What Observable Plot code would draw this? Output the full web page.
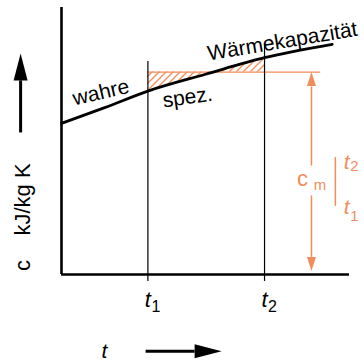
<!DOCTYPE html>
<html><head><meta charset="utf-8">
<script src="https://cdn.jsdelivr.net/npm/d3@7"></script>
<script src="https://cdn.jsdelivr.net/npm/@observablehq/plot@0.6"></script>
<style>body{margin:0;background:#fff}</style>
</head><body><div id="chart"></div>
<script>
// True specific heat capacity curve c(t) (schematic units)
const curveT = [0, 1.5, 3, 5, 7.05, 9.4];
const curveC = [5.66, 6.25, 6.87, 7.5, 8.12, 8.62];
// Temperatures t1, t2 and their guide-line tops
const tempT = [3, 7.05];
const tempTop = [7.98, 8.65];
const tempSub = ["1", "2"];
// Mean specific heat capacity between t1 and t2
const cmValue = 7.58;
const cmLineEnd = 9.0;

const OR = "#f28c5a";
const FONT = "'Liberation Sans', Arial, sans-serif";

const curve = curveT.map((t, i) => ({t, c: curveC[i]}));
const hatch = curve.filter(d => d.t >= tempT[0] && d.t <= tempT[1]);
const temps = tempT.map((t, i) => ({t, top: tempTop[i], sub: tempSub[i]}));

// arrow annotations: shaft start, shaft end (head base), tip
const arrowsBlack = [
  {x1: -1.42, y1: 5.32, x2: -1.42, y2: 7.27, tx: -1.42, ty: 8.28, rot: 0},
  {x1: 2.92, y1: -2.87, x2: 4.62, y2: -2.87, tx: 5.56, ty: -2.87, rot: 90}
];
const arrowsOrange = [
  {x1: 8.68, y1: 4.08, x2: 8.68, y2: 7.04, tx: 8.68, ty: cmValue, rot: 0},
  {x1: 8.68, y1: 2.96, x2: 8.68, y2: 0.66, tx: 8.68, ty: 0.13, rot: 180}
];

const headBig = {draw(ctx) { ctx.moveTo(0, 0); ctx.lineTo(7, 27); ctx.lineTo(-7, 27); ctx.closePath(); }};
const headSmall = {draw(ctx) { ctx.moveTo(0, 0); ctx.lineTo(4.5, 14); ctx.lineTo(-4.5, 14); ctx.closePath(); }};

const curveLabels = [
  {text: "wahre", t: 1.42, c: 6.57, rot: -13},
  {text: "spez.", t: 4.41, c: 6.39, rot: -8},
  {text: "Wärmekapazität", t: 7.71, c: 8.48, rot: -9.5}
];

const svg = Plot.plot({
  width: 364, height: 361,
  marginLeft: 61, marginRight: 15, marginTop: 7, marginBottom: 87,
  style: {fontFamily: FONT, background: "white", overflow: "visible"},
  x: {domain: [0, 10], axis: null},
  y: {domain: [0, 10], axis: null},
  marks: [
    Plot.areaY(hatch, {x: "t", y1: cmValue, y2: "c", fill: "url(#hatch)", curve: "monotone-x"}),
    Plot.ruleY([cmValue], {x1: tempT[0], x2: cmLineEnd, stroke: OR, strokeWidth: 1.3}),
    Plot.line(curve, {x: "t", y: "c", strokeWidth: 2.8, curve: "monotone-x"}),
    Plot.ruleX(temps, {x: "t", y1: -0.26, y2: "top", strokeWidth: 1.2}),
    Plot.ruleX([0], {y1: 0, y2: 10, strokeWidth: 2.6}),
    Plot.ruleY([0], {x1: 0, x2: 10, strokeWidth: 2.6}),
    // arrows
    Plot.link(arrowsBlack, {x1: "x1", y1: "y1", x2: "x2", y2: "y2", strokeWidth: 3}),
    Plot.dot(arrowsBlack, {x: "tx", y: "ty", symbol: headBig, rotate: "rot", fill: "black", stroke: "none"}),
    Plot.link(arrowsOrange, {x1: "x1", y1: "y1", x2: "x2", y2: "y2", stroke: OR, strokeWidth: 1.5}),
    Plot.dot(arrowsOrange, {x: "tx", y: "ty", symbol: headSmall, rotate: "rot", fill: OR, stroke: "none"}),
    Plot.ruleX([9.51], {y1: 2.55, y2: 4.38, stroke: OR, strokeWidth: 1.5}),
    // curve labels
    Plot.text(curveLabels, {x: "t", y: "c", text: "text", rotate: "rot", fontSize: 21, textAnchor: "middle", lineAnchor: "bottom"}),
    // tick labels t1, t2
    Plot.text(temps, {x: "t", y: 0, text: () => "t", fontSize: 22, fontStyle: "italic", textAnchor: "end", lineAnchor: "bottom", dx: 3, dy: 32}),
    Plot.text(temps, {x: "t", y: 0, text: "sub", fontSize: 16, textAnchor: "start", lineAnchor: "bottom", dx: 3.5, dy: 37}),
    // axis titles
    Plot.text(["t"], {x: 1.49, y: -3.11, text: d => d, fontSize: 21, fontStyle: "italic", textAnchor: "middle", lineAnchor: "bottom"}),
    Plot.text(["kJ/kg K"], {x: -1.08, y: 2.81, text: d => d, fontSize: 22, rotate: -90, textAnchor: "middle", lineAnchor: "bottom"}),
    Plot.text(["c"], {x: -1.08, y: 0.34, text: d => d, fontSize: 22, rotate: -90, textAnchor: "middle", lineAnchor: "bottom"}),
    // c_m label
    Plot.text(["c"], {x: 8.37, y: 3.33, text: d => d, fontSize: 22, fill: OR, textAnchor: "middle", lineAnchor: "bottom"}),
    Plot.text(["m"], {x: 8.98, y: 3.18, text: d => d, fontSize: 15, fill: OR, textAnchor: "middle", lineAnchor: "bottom"}),
    Plot.text(["t", "t"], {x: [10.0, 10.0], y: [3.97, 2.25], text: d => d, fontSize: 21, fontStyle: "italic", fill: OR, textAnchor: "end", lineAnchor: "bottom"}),
    Plot.text(["2", "1"], {x: [10.03, 10.03], y: [3.86, 1.99], text: d => d, fontSize: 15, fill: OR, textAnchor: "start", lineAnchor: "bottom"})
  ]
});

const ns = "http://www.w3.org/2000/svg";
const defs = document.createElementNS(ns, "defs");
const pat = document.createElementNS(ns, "pattern");
pat.setAttribute("id", "hatch");
pat.setAttribute("patternUnits", "userSpaceOnUse");
pat.setAttribute("width", 7);
pat.setAttribute("height", 7);
const p = document.createElementNS(ns, "path");
p.setAttribute("d", "M-1,1 l2,-2 M0,7 l7,-7 M6,8 l2,-2");
p.setAttribute("stroke", OR);
p.setAttribute("stroke-width", 1.3);
pat.appendChild(p);
defs.appendChild(pat);
svg.insertBefore(defs, svg.firstChild);
document.getElementById("chart").appendChild(svg);
</script>
</body></html>
